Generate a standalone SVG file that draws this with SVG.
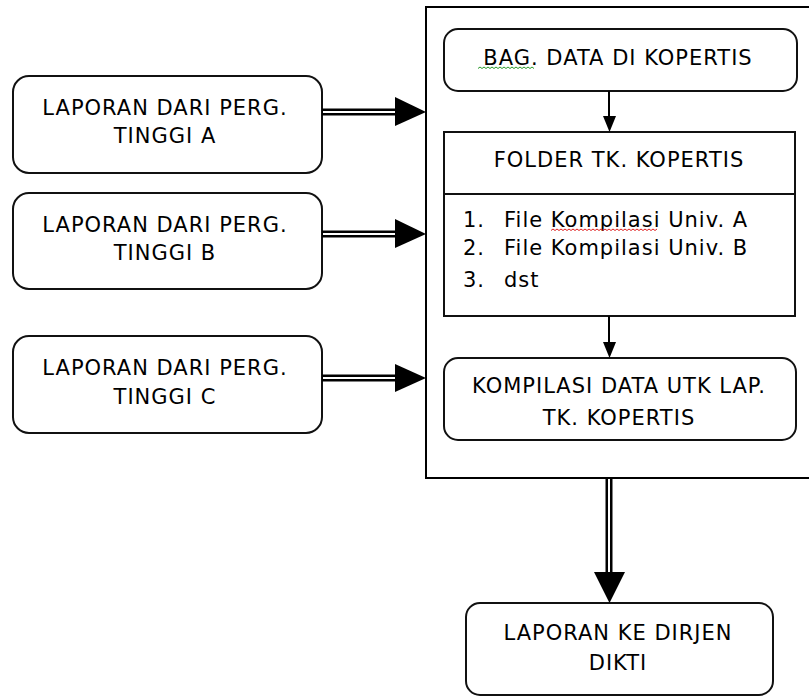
<svg xmlns="http://www.w3.org/2000/svg" width="809" height="697" viewBox="0 0 809 697">
<style>
.box{fill:#fff;stroke:#111;stroke-width:2}
.t{font-family:"DejaVu Sans","Liberation Sans",sans-serif;font-size:21px;letter-spacing:1px;fill:#000;text-anchor:middle}
.l{font-family:"DejaVu Sans","Liberation Sans",sans-serif;font-size:21px;letter-spacing:1px;fill:#000}
.dblo{stroke:#000;stroke-width:7;fill:none}
.dbli{stroke:#fff;stroke-width:2;fill:none}
.thin{stroke:#000;stroke-width:2;fill:none}
.head{fill:#000}
</style>
<rect width="809" height="697" fill="#fff"/>
<g id="container"><rect x="426" y="7" width="420" height="471" fill="#fff" stroke="#000" stroke-width="2"/></g>
<g id="nodeA"><rect class="box" x="13" y="76" width="309" height="97" rx="16"/><text class="t" x="165" y="115">LAPORAN DARI PERG.</text><text class="t" x="165" y="143">TINGGI A</text></g>
<g id="nodeB"><rect class="box" x="13" y="193" width="309" height="96" rx="16"/><text class="t" x="165" y="232">LAPORAN DARI PERG.</text><text class="t" x="165" y="260">TINGGI B</text></g>
<g id="nodeC"><rect class="box" x="13" y="336" width="309" height="97" rx="16"/><text class="t" x="165" y="375">LAPORAN DARI PERG.</text><text class="t" x="165" y="404">TINGGI C</text></g>
<g id="bag"><rect class="box" x="444" y="29" width="353" height="62" rx="14"/><text class="t" x="618" y="65">BAG. DATA DI KOPERTIS</text><path d="M478 68.5 l2 -1.5 l2 1.5 l2 -1.5 l2 1.5 l2 -1.5 l2 1.5 l2 -1.5 l2 1.5 l2 -1.5 l2 1.5 l2 -1.5 l2 1.5 l2 -1.5 l2 1.5 l2 -1.5 l2 1.5 l2 -1.5 l2 1.5 l2 -1.5 l2 1.5 l2 -1.5 l2 1.5 l2 -1.5 l2 1.5 l2 -1.5 l2 1.5 l2 -1.5 l2 1.5" stroke="#2a9a2a" stroke-width="1" fill="none"/></g>
<g id="folder"><rect class="box" x="444" y="132" width="351" height="184"/><line x1="444" y1="194" x2="795" y2="194" stroke="#111" stroke-width="2"/><text class="t" x="619" y="167">FOLDER TK. KOPERTIS</text>
<text class="l" x="463" y="227">1.</text><text class="l" x="504" y="227">File Kompilasi Univ. A</text>
<text class="l" x="463" y="255">2.</text><text class="l" x="504" y="255">File Kompilasi Univ. B</text>
<text class="l" x="463" y="287">3.</text><text class="l" x="504" y="287">dst</text>
<path d="M551 230.5 l2 -1.5 l2 1.5 l2 -1.5 l2 1.5 l2 -1.5 l2 1.5 l2 -1.5 l2 1.5 l2 -1.5 l2 1.5 l2 -1.5 l2 1.5 l2 -1.5 l2 1.5 l2 -1.5 l2 1.5 l2 -1.5 l2 1.5 l2 -1.5 l2 1.5 l2 -1.5 l2 1.5 l2 -1.5 l2 1.5 l2 -1.5 l2 1.5 l2 -1.5 l2 1.5 l2 -1.5 l2 1.5 l2 -1.5 l2 1.5 l2 -1.5 l2 1.5 l2 -1.5 l2 1.5 l2 -1.5 l2 1.5 l2 -1.5 l2 1.5 l2 -1.5 l2 1.5 l2 -1.5 l2 1.5 l2 -1.5 l2 1.5 l2 -1.5 l2 1.5 l2 -1.5 l2 1.5 l2 -1.5 l2 1.5 l2 -1.5" stroke="#e02020" stroke-width="1" fill="none"/></g>
<g id="kompilasi"><rect class="box" x="444" y="358" width="352" height="82" rx="14"/><text class="t" x="619" y="393">KOMPILASI DATA UTK LAP.</text><text class="t" x="619" y="425">TK. KOPERTIS</text></g>
<g id="dikti"><rect class="box" x="466" y="603" width="307" height="92" rx="14"/><text class="t" x="618" y="640">LAPORAN KE DIRJEN</text><text class="t" x="618" y="670">DIKTI</text></g>
<g id="connectors">
<line class="dblo" x1="322" y1="112" x2="398" y2="112"/><line class="dbli" x1="323" y1="112" x2="398" y2="112"/><polygon class="head" points="395,97 426,112 395,126"/>
<line class="dblo" x1="322" y1="234" x2="398" y2="234"/><line class="dbli" x1="323" y1="234" x2="398" y2="234"/><polygon class="head" points="395,219 426,234 395,248"/>
<line class="dblo" x1="322" y1="378" x2="398" y2="378"/><line class="dbli" x1="323" y1="378" x2="398" y2="378"/><polygon class="head" points="395,364 426,378 395,392"/>
<line class="dblo" x1="609" y1="478" x2="609" y2="575"/><line class="dbli" x1="609" y1="479" x2="609" y2="575"/><polygon class="head" points="594,572 625,572 609.5,603"/>
<line class="thin" x1="609" y1="91" x2="609" y2="120"/><polygon class="head" points="603,116 616,116 609.5,132"/>
<line class="thin" x1="609" y1="316" x2="609" y2="345"/><polygon class="head" points="603,342 616,342 609.5,358"/>
</g>
</svg>
